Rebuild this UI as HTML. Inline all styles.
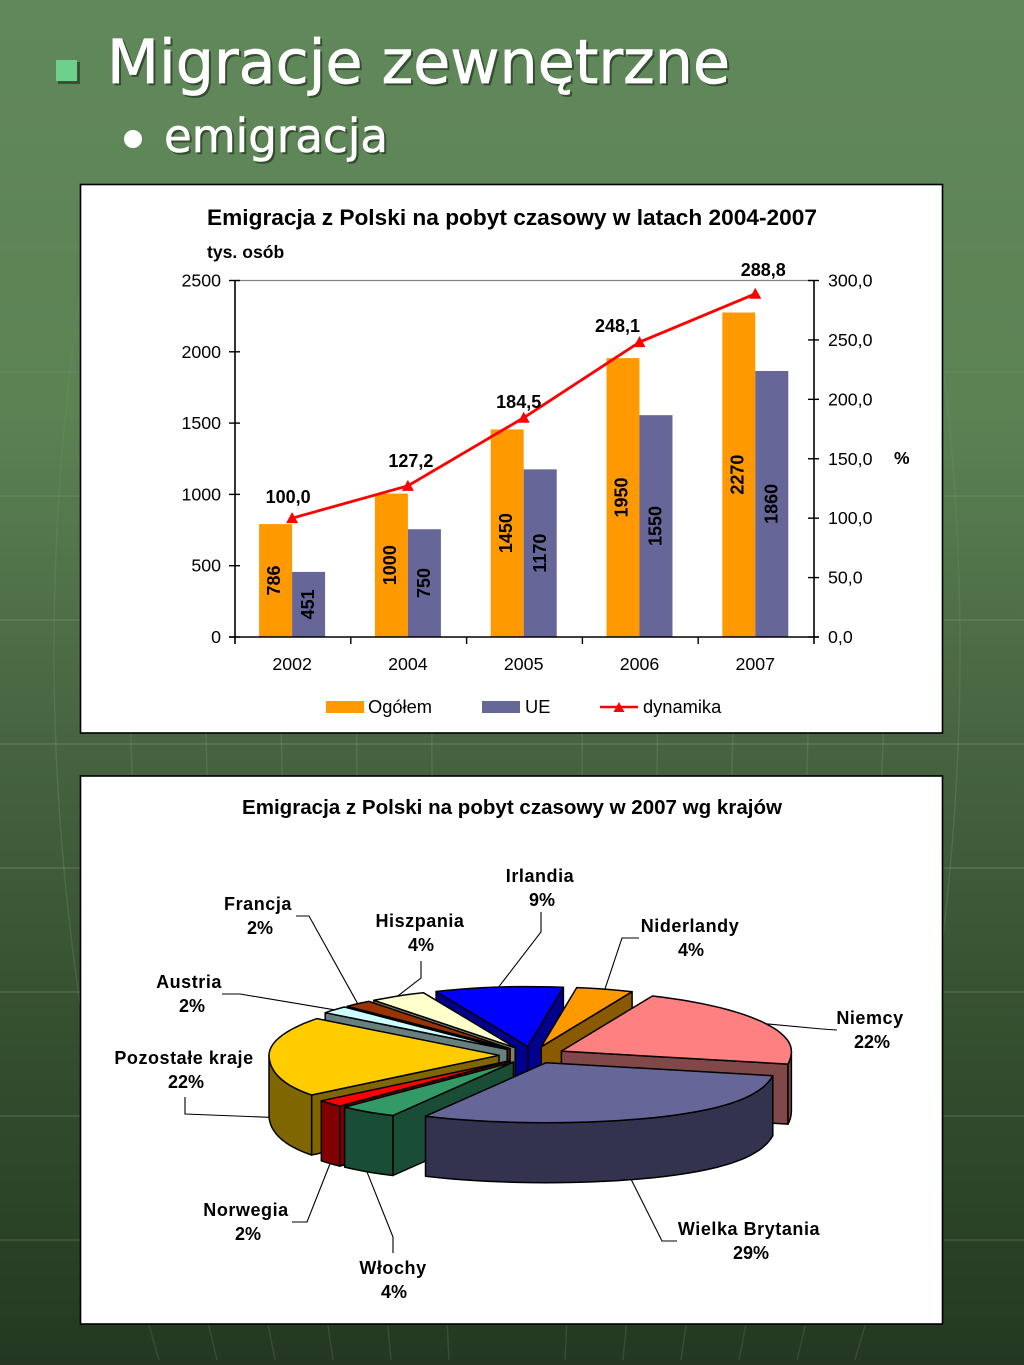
<!DOCTYPE html>
<html lang="pl">
<head>
<meta charset="utf-8">
<title>Migracje zewnętrzne</title>
<style>
html,body{margin:0;padding:0;width:1024px;height:1365px;overflow:hidden;background:#466340}
svg{display:block}
text{font-family:"Liberation Sans",sans-serif;fill:#000}
.b{font-weight:bold}
.h{font-family:"DejaVu Sans","Liberation Sans",sans-serif;fill:#fff}
</style>
</head>
<body>
<svg id="slide" xmlns="http://www.w3.org/2000/svg" width="1024" height="1365" viewBox="0 0 1024 1365">
  <defs>
    <linearGradient id="bg" x1="0" y1="0" x2="0" y2="1">
      <stop offset="0" stop-color="#61885b"/>
      <stop offset="0.3" stop-color="#5c8254"/>
      <stop offset="0.55" stop-color="#466340"/>
      <stop offset="0.75" stop-color="#34502f"/>
      <stop offset="1" stop-color="#243821"/>
    </linearGradient>
    <linearGradient id="gridFade" gradientUnits="userSpaceOnUse" x1="0" y1="150" x2="0" y2="800">
      <stop offset="0" stop-color="#fff" stop-opacity="0"/>
      <stop offset="1" stop-color="#fff" stop-opacity="0.13"/>
    </linearGradient>
    <linearGradient id="gridFadeV" gradientUnits="userSpaceOnUse" x1="0" y1="200" x2="0" y2="800">
      <stop offset="0" stop-color="#fff" stop-opacity="0"/>
      <stop offset="1" stop-color="#fff" stop-opacity="0.09"/>
    </linearGradient>
  </defs>
  <rect width="1024" height="1365" fill="url(#bg)"/>
  <g id="bgLines"></g>

  <rect x="58" y="62" width="22" height="22" fill="#1d2f1a" opacity="0.6"/>
  <rect x="56" y="60" width="21" height="21" fill="#6fd08c"/>
  <text class="h" x="109" y="85" font-size="61" textLength="623" lengthAdjust="spacingAndGlyphs" stroke="#1d2f1a" stroke-width="0.7" style="fill:#1d2f1a" opacity="0.65">Migracje zewnętrzne</text>
  <text class="h" x="107" y="83" font-size="61" textLength="623" lengthAdjust="spacingAndGlyphs" stroke="#fff" stroke-width="0.7">Migracje zewnętrzne</text>
  <circle cx="133" cy="139" r="9" fill="#fff"/>
  <text class="h" x="166" y="154" font-size="46" textLength="224" lengthAdjust="spacingAndGlyphs" stroke="#1d2f1a" stroke-width="0.6" style="fill:#1d2f1a" opacity="0.65">emigracja</text>
  <text class="h" x="164" y="152" font-size="46" textLength="224" lengthAdjust="spacingAndGlyphs" stroke="#fff" stroke-width="0.6">emigracja</text>

  <rect x="80.5" y="184.5" width="862" height="548.5" fill="#fff" stroke="#000" stroke-width="1.6"/>
  <text class="b" x="207" y="225" font-size="22" textLength="610" lengthAdjust="spacingAndGlyphs">Emigracja z Polski na pobyt czasowy w latach 2004-2007</text>
  <text class="b" x="207" y="258" font-size="17.6">tys. osób</text>
  <text class="b" x="894" y="464" font-size="17.5">%</text>
  <g id="barChart"></g>

  <g>
    <g>
      <rect x="326" y="701" width="38" height="12" fill="#ff9900"/>
      <text x="368" y="713" font-size="18.3">Ogółem</text>
    </g>
    <g>
      <rect x="482" y="701" width="38" height="12" fill="#666699"/>
      <text x="525" y="713" font-size="18.3">UE</text>
    </g>
    <g>
      <line x1="600" y1="707" x2="638" y2="707" stroke="#f00" stroke-width="2.6"/>
      <polygon points="619,702 624.5,712 613.5,712" fill="#f00"/>
      <text x="643" y="713" font-size="18.3">dynamika</text>
    </g>
  </g>

  <rect x="80.5" y="776" width="862" height="548" fill="#fff" stroke="#000" stroke-width="1.6"/>
  <text class="b" x="242" y="814" font-size="20.5" textLength="540" lengthAdjust="spacingAndGlyphs">Emigracja z Polski na pobyt czasowy w 2007 wg krajów</text>
  <g id="pieChart"></g>
</svg>

<script>
// ---------- bar / line chart data ----------
const categories = ['2002', '2004', '2005', '2006', '2007'];
const ogolemValues = [786, 1000, 1450, 1950, 2270];
const ueValues = [451, 750, 1170, 1550, 1860];
const dynamikaValues = [100.0, 127.2, 184.5, 248.1, 288.8];
const leftTicks = [0, 500, 1000, 1500, 2000, 2500];
const rightTicks = [0, 50, 100, 150, 200, 250, 300];

// ---------- pie chart data ----------
const pieCategories = ['Irlandia', 'Niderlandy', 'Niemcy', 'Wielka Brytania', 'Włochy', 'Norwegia', 'Pozostałe kraje', 'Austria', 'Francja', 'Hiszpania'];
const pieValues = [9, 4, 22, 29, 4, 2, 22, 2, 2, 4];

// ---------- presentation ----------
const pieTopColors = ['#0000ff', '#ff9900', '#ff8080', '#666699', '#339966', '#ff0000', '#ffcc00', '#ccffff', '#993300', '#ffffcc'];
const pieWallColors = ['#00008c', '#8a5a00', '#804848', '#33334f', '#1a4d36', '#800000', '#806600', '#668080', '#4d1a00', '#808066'];
const lineLabelOffsets = [[-4, -15], [3, -19], [-5, -10], [-22, -10], [8, -18]];
const pieLabelLayout = [
  { nameX: 540, nameY: 882, pctX: 542, pctY: 906, bias: 0, via: [[541, 912], [541, 932]] },
  { nameX: 690, nameY: 932, pctX: 691, pctY: 956, bias: 0, via: [[639, 938], [622, 938]] },
  { nameX: 870, nameY: 1024, pctX: 872, pctY: 1048, bias: 0, via: [[837, 1030], [822, 1029]] },
  { nameX: 749, nameY: 1235, pctX: 751, pctY: 1259, bias: 7, via: [[677, 1241], [662, 1241]] },
  { nameX: 393, nameY: 1274, pctX: 394, pctY: 1298, bias: 0, via: [[393, 1253], [393, 1237]] },
  { nameX: 246, nameY: 1216, pctX: 248, pctY: 1240, bias: 0, via: [[292, 1222], [307, 1222]] },
  { nameX: 184, nameY: 1064, pctX: 186, pctY: 1088, bias: 0, via: [[185, 1097], [185, 1114]] },
  { nameX: 189, nameY: 988, pctX: 192, pctY: 1012, bias: 0, via: [[222, 994], [240, 994]] },
  { nameX: 258, nameY: 910, pctX: 260, pctY: 934, bias: 0, via: [[296, 916], [309, 916]] },
  { nameX: 420, nameY: 927, pctX: 421, pctY: 951, bias: 0, via: [[421, 961], [421, 978]] }
];

const SVG_NS = 'http://www.w3.org/2000/svg';
function make(tag, parent, attrs) {
  const node = document.createElementNS(SVG_NS, tag);
  for (const key in attrs) node.setAttribute(key, attrs[key]);
  parent.appendChild(node);
  return node;
}

// ---------- background pattern ----------
const bgLines = document.getElementById('bgLines');
for (let y = 248; y < 1300; y += 124) {
  const hLine = make('line', bgLines, { x1: 0, y1: y, x2: 1024, y2: y + 0.01, stroke: 'url(#gridFade)', 'stroke-width': 1.6 });
  
  
}
for (let i = -6; i <= 6; i++) {
  if (i === 0) continue;
  let d = '';
  for (let y = 180; y <= 1365; y += 20) {
    const f = 1 - 4.6e-7 * (y - 650) * (y - 650);
    d += (d ? 'L' : 'M') + (507 + i * 75.5 * f).toFixed(1) + ' ' + y + ' ';
  }
  const vLine = make('path', bgLines, { d: d, fill: 'none', stroke: 'url(#gridFadeV)', 'stroke-width': 1.4 });
  
  
}

// ---------- bar chart ----------
const plot = { left: 235, right: 814, top: 280.5, bottom: 637 };
const barWidth = 33;
const barShift = -0.8;
const barTopLift = 0.8;
const bandWidth = (plot.right - plot.left) / categories.length;
function xCenter(i) { return plot.left + bandWidth * (i + 0.5); }
function yLeft(v) { return plot.bottom - (v / 2500) * (plot.bottom - plot.top); }
function yRight(v) { return plot.bottom - (v / 300) * (plot.bottom - plot.top); }
function fmtComma(v) { return v.toFixed(1).replace('.', ','); }

const barChart = document.getElementById('barChart');

const topRule = make('line', barChart, { x1: plot.left, y1: plot.top, x2: plot.right, y2: plot.top, stroke: '#808080', 'stroke-width': 1.2 });



categories.forEach(function (cat, i) {
  const cx = xCenter(i) + barShift;
  const barA = make('rect', barChart, { x: cx - barWidth, y: yLeft(ogolemValues[i]) - barTopLift, width: barWidth, height: plot.bottom - yLeft(ogolemValues[i]) + barTopLift, fill: '#ff9900' });
  
  
  const barB = make('rect', barChart, { x: cx, y: yLeft(ueValues[i]) - barTopLift, width: barWidth, height: plot.bottom - yLeft(ueValues[i]) + barTopLift, fill: '#666699' });
  
  

  const ya = (yLeft(ogolemValues[i]) + plot.bottom) / 2 - 0.5;
  const labelA = make('text', barChart, { class: 'b', 'font-size': 18, 'text-anchor': 'middle', transform: 'translate(' + (cx - barWidth / 2 + 4.6) + ' ' + ya + ') rotate(-90)' });
  labelA.textContent = ogolemValues[i];
  
  
  const yb = (yLeft(ueValues[i]) + plot.bottom) / 2 - 0.5;
  const labelB = make('text', barChart, { class: 'b', 'font-size': 18, 'text-anchor': 'middle', transform: 'translate(' + (cx + barWidth / 2 + 5.6) + ' ' + yb + ') rotate(-90)' });
  labelB.textContent = ueValues[i];
  
  

  const catLabel = make('text', barChart, { x: cx, y: 670, 'font-size': 17.8, 'text-anchor': 'middle' });
  catLabel.textContent = cat;
  
  
});

// axes
const axisLeft = make('line', barChart, { x1: plot.left, y1: plot.top, x2: plot.left, y2: plot.bottom + 7, stroke: '#000', 'stroke-width': 1.6 });


const axisRight = make('line', barChart, { x1: plot.right, y1: plot.top, x2: plot.right, y2: plot.bottom + 7, stroke: '#000', 'stroke-width': 1.6 });


const axisX = make('line', barChart, { x1: plot.left - 6, y1: plot.bottom, x2: plot.right + 5, y2: plot.bottom, stroke: '#000', 'stroke-width': 1.6 });



for (let i = 1; i < categories.length; i++) {
  const xt = plot.left + bandWidth * i;
  const xTick = make('line', barChart, { x1: xt, y1: plot.bottom, x2: xt, y2: plot.bottom + 7, stroke: '#000', 'stroke-width': 1.4 });
  
  
}
leftTicks.forEach(function (v) {
  const y = yLeft(v);
  const tick = make('line', barChart, { x1: plot.left - 6, y1: y, x2: plot.left + 5, y2: y, stroke: '#000', 'stroke-width': 1.4 });
  
  
  const label = make('text', barChart, { x: 221, y: y + 6, 'font-size': 17.8, 'text-anchor': 'end' });
  label.textContent = v;
  
  
});
rightTicks.forEach(function (v) {
  const y = yRight(v);
  const tick = make('line', barChart, { x1: plot.right - 6, y1: y, x2: plot.right + 5, y2: y, stroke: '#000', 'stroke-width': 1.4 });
  
  
  const label = make('text', barChart, { x: 828, y: y + 6, 'font-size': 17.8 });
  label.textContent = fmtComma(v);
  
  
});

// dynamics line
const linePts = dynamikaValues.map(function (v, i) { return (xCenter(i) + barShift) + ',' + yRight(v); }).join(' ');
const dynLine = make('polyline', barChart, { points: linePts, fill: 'none', stroke: '#ff0000', 'stroke-width': 2.8 });


dynamikaValues.forEach(function (v, i) {
  const x = xCenter(i) + barShift, y = yRight(v);
  const marker = make('polygon', barChart, { points: x + ',' + (y - 6) + ' ' + (x + 6) + ',' + (y + 5) + ' ' + (x - 6) + ',' + (y + 5), fill: '#ff0000' });
  
  
  const label = make('text', barChart, { class: 'b', x: x + lineLabelOffsets[i][0], y: y + lineLabelOffsets[i][1], 'font-size': 18, 'text-anchor': 'middle' });
  label.textContent = fmtComma(v);
  
  
});

// ---------- pie chart ----------
const pie = { cx: 532, cy: 1055, rx: 230, ry: 60, depth: 60, explodeX: 33, explodeY: 8.5, start: -23.5, persp: 0.2 };
const pieTotal = pieValues.reduce(function (a, b) { return a + b; }, 0);
const pieChart = document.getElementById('pieChart');
function rad(a) { return a * Math.PI / 180; }

const sliceGeo = [];
let pieAngle = pie.start;
pieValues.forEach(function (v, i) {
  const a0 = pieAngle;
  const a1 = a0 + 360 * v / pieTotal;
  pieAngle = a1;
  const mid = (a0 + a1) / 2;
  sliceGeo.push({
    index: i, a0: a0, a1: a1, mid: mid,
    ox: pie.cx + pie.explodeX * Math.sin(rad(mid)),
    oy: pie.cy - pie.explodeY * Math.cos(rad(mid))
  });
});
function rim(s, a) {
  const front = Math.max(0, -Math.cos(rad(a)));
  return [
    s.ox + pie.rx * Math.sin(rad(a)) * (1 + pie.persp * front * front),
    s.oy - pie.ry * Math.cos(rad(a))
  ];
}
function arcPoints(s, a0, a1) {
  const pts = [];
  const steps = Math.max(2, Math.ceil((a1 - a0) / 3));
  for (let k = 0; k <= steps; k++) pts.push(rim(s, a0 + (a1 - a0) * k / steps));
  return pts;
}
function toPoints(pts) {
  return pts.map(function (p) { return p[0].toFixed(1) + ',' + p[1].toFixed(1); }).join(' ');
}
function down(pts) {
  return pts.map(function (p) { return [p[0], p[1] + pie.depth]; });
}

// leader lines under the slices
sliceGeo.forEach(function (s) {
  const lay = pieLabelLayout[s.index];
  const end = rim(s, s.mid + lay.bias);
  if (Math.cos(rad(s.mid)) < 0) end[1] += pie.depth;
  const leader = make('polyline', pieChart, { points: toPoints(lay.via.concat([end])), fill: 'none', stroke: '#000', 'stroke-width': 1.1 });
  
  
});

// slices painted back to front
sliceGeo.slice().sort(function (p, q) { return Math.cos(rad(q.mid)) - Math.cos(rad(p.mid)); }).forEach(function (s) {
  const group = make('g', pieChart, { stroke: '#000', 'stroke-width': 1.5, 'stroke-linejoin': 'round' });
  
  
  const wall = pieWallColors[s.index];
  const apex = [s.ox, s.oy];

  if (Math.sin(rad(s.a0)) < 0) {
    const p = rim(s, s.a0);
    const w0 = make('polygon', group, { points: toPoints([apex, p].concat(down([p, apex]))), fill: wall });
    
    
  }
  if (Math.sin(rad(s.a1)) > 0) {
    const p = rim(s, s.a1);
    const w1 = make('polygon', group, { points: toPoints([apex, p].concat(down([p, apex]))), fill: wall });
    
    
  }
  const f0 = Math.max(s.a0, 90), f1 = Math.min(s.a1, 270);
  if (f1 > f0) {
    const arc = arcPoints(s, f0, f1);
    const w2 = make('polygon', group, { points: toPoints(arc.concat(down(arc).reverse())), fill: wall });
    
    
  }
  const top = make('polygon', group, { points: toPoints([apex].concat(arcPoints(s, s.a0, s.a1))), fill: pieTopColors[s.index] });
  
  
});

// labels
pieCategories.forEach(function (name, i) {
  const lay = pieLabelLayout[i];
  const nameText = make('text', pieChart, { class: 'b', x: lay.nameX, y: lay.nameY, 'font-size': 18, 'letter-spacing': 0.55, 'text-anchor': 'middle' });
  nameText.textContent = name;
  
  
  const pctText = make('text', pieChart, { class: 'b', x: lay.pctX, y: lay.pctY, 'font-size': 18, 'text-anchor': 'middle' });
  pctText.textContent = pieValues[i] + '%';
  
  
});
</script>
</body>
</html>
